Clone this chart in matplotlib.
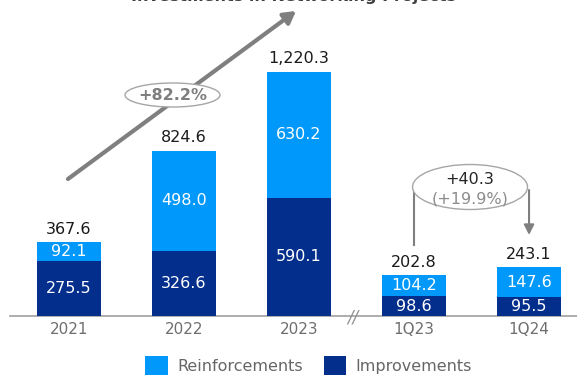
import numpy as np
import matplotlib
matplotlib.use('Agg')
import matplotlib.pyplot as plt
from matplotlib.patches import Ellipse

# values in R$ million
periods = ['2021', '2022', '2023', '1Q23', '1Q24']
improvements = [275.5, 326.6, 590.1, 98.6, 95.5]
reinforcements = [92.1, 498.0, 630.2, 104.2, 147.6]
totals = [367.6, 824.6, 1220.3, 202.8, 243.1]

cagr_label = '+82.2%'
qoq_delta = '+40.3'
qoq_pct = '(+19.9%)'

light_blue = '#0098FA'
navy = '#032E8C'
grey = '#7F7F7F'

plt.rcParams['font.family'] = ['DejaVu Sans']

fig = plt.figure(figsize=(5.77, 3.76), dpi=100)
ax = fig.add_axes([0, 0, 1, 1])
ax.set_xlim(-0.6, 4.417)
ax.set_ylim(-300, 1580)
ax.axis('off')

x = np.arange(len(periods))
w = 0.557
ax.bar(x, improvements, w, color=navy, label='Improvements', zorder=2)
ax.bar(x, reinforcements, w, bottom=improvements, color=light_blue,
       label='Reinforcements', zorder=2)

# baseline
ax.plot([-0.513, 4.417], [0, 0], color='#A0A0A0', lw=1.2, zorder=1)
ax.text(2.47, -5, '//', ha='center', va='center', fontsize=12,
        color='#909090', style='italic')

for i in range(len(periods)):
    ax.text(x[i], improvements[i] / 2, f'{improvements[i]:.1f}', ha='center',
            va='center', color='white', fontsize=11.5, zorder=3)
    ax.text(x[i], improvements[i] + reinforcements[i] / 2,
            f'{reinforcements[i]:.1f}', ha='center', va='center',
            color='white', fontsize=11.5, zorder=3)
    ax.annotate(f'{totals[i]:,.1f}', (x[i], totals[i]), xytext=(0, 9.5),
                textcoords='offset points', ha='center', va='center',
                fontsize=11.5, color='#1A1A1A')
    ax.text(x[i], -70, periods[i], ha='center', va='center', fontsize=11,
            color='#6E6E6E')

# annual growth arrow
ax.annotate('', xy=(1.974, 1525), xytext=(-0.009, 685),
            arrowprops=dict(arrowstyle='-|>,head_length=0.7,head_width=0.4',
                            color=grey, lw=3, shrinkA=0, shrinkB=0),
            zorder=4)
ax.add_patch(Ellipse((0.9, 1105), 0.826, 120, facecolor='white',
                     edgecolor='#A6A6A6', lw=1, zorder=5))
ax.text(0.9, 1105, cagr_label, ha='center', va='center', fontsize=11.5,
        fontweight='bold', color=grey, zorder=6)

# quarter over quarter bracket
ax.plot([3.0, 3.0], [355, 630], color=grey, lw=1.5, zorder=4)
ax.annotate('', xy=(4.0, 405), xytext=(4.0, 630),
            arrowprops=dict(arrowstyle='-|>,head_length=0.6,head_width=0.3',
                            color=grey, lw=1.5, shrinkA=0, shrinkB=0),
            zorder=4)
ax.add_patch(Ellipse((3.487, 645), 1.0, 225, facecolor='white',
                     edgecolor='#A6A6A6', lw=1, zorder=5))
ax.text(3.487, 685, qoq_delta, ha='center', va='center', fontsize=11.5,
        color='#262626', zorder=6)
ax.text(3.487, 585, qoq_pct, ha='center', va='center', fontsize=11.5,
        color='#8C8C8C', zorder=6)

# heading sits above the top edge, only its lowest strokes show
fig.text(0.508, 1 - 0.5 / 376, 'Investments in Networking Projects',
         ha='center', va='baseline', fontsize=11.5, fontweight='bold',
         color='#404040')

handles, labels = ax.get_legend_handles_labels()
ax.legend(handles[::-1], labels[::-1], loc='lower center',
          bbox_to_anchor=(0.535, -0.035), ncol=2, frameon=False,
          fontsize=11.5, labelcolor='#666666', handlelength=1.4,
          handleheight=1.4, columnspacing=1.3, handletextpad=0.6)

fig.savefig('out.png', dpi=100)
